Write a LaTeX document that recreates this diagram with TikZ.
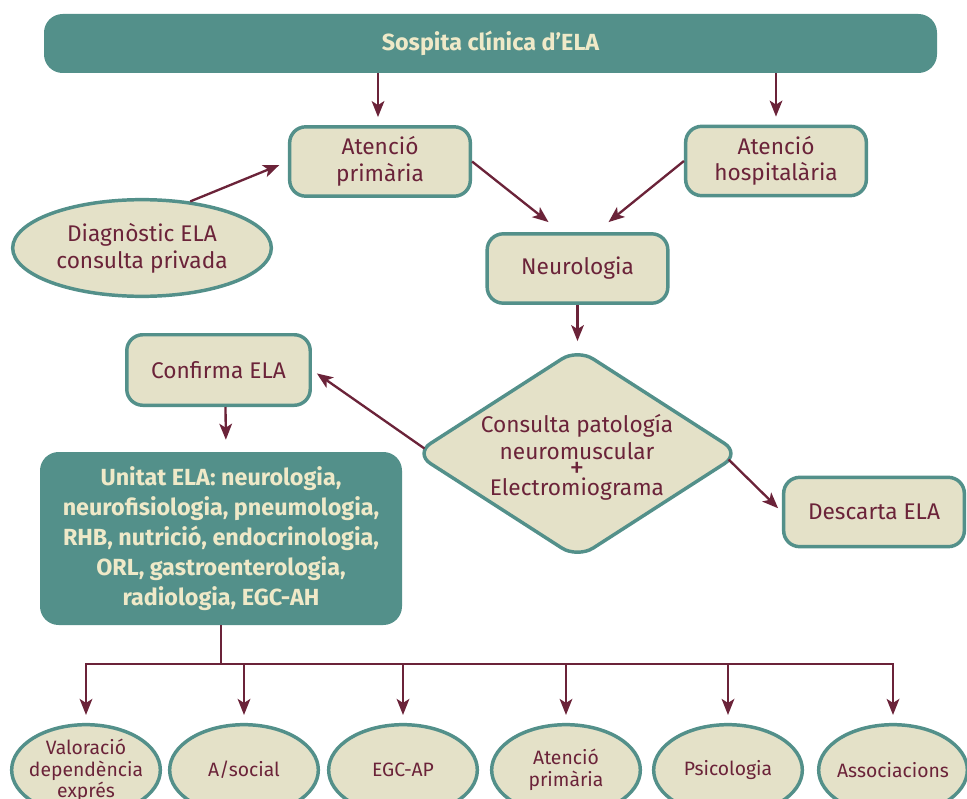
\documentclass[tikz,border=0pt]{standalone}
\usepackage{fontspec}
\setmainfont{Fira Sans}
\usetikzlibrary{arrows.meta,shapes.geometric,calc}
\definecolor{teal1}{HTML}{53908A}
\definecolor{beige}{HTML}{E4E1C8}
\definecolor{maroon}{HTML}{6B2339}
\definecolor{cream}{HTML}{EFE9C8}
\begin{document}
\begin{tikzpicture}[x=0.75pt,y=-0.75pt,
 box/.style={draw=teal1, fill=beige, line width=2.6pt, rounded corners=12pt, text=maroon,
   font=\fontsize{17}{20}\selectfont, align=center, inner sep=0pt,
   minimum width=135.5pt, minimum height=52pt},
 tealbox/.style={fill=teal1, rounded corners=14pt, text=cream,
   font=\bfseries\fontsize{17.5}{22.5}\selectfont, align=center, inner sep=0pt},
 oval/.style={ellipse, draw=teal1, fill=beige, line width=2.6pt, text=maroon, align=center, inner sep=0pt},
 smalloval/.style={oval, inner sep=-5pt, minimum width=111.5pt, minimum height=68pt, font=\fontsize{14.5}{16.5}\selectfont},
 conn/.style={draw=maroon, line width=1.75pt},
 arr/.style={conn, -{Stealth[length=12pt,width=9.5pt,inset=3pt]}, shorten >=5pt},
]
\useasboundingbox (0,0) rectangle (967,799);
\clip (0,0) rectangle (967,799);

% top banner
\node[tealbox, minimum width=669.75pt, minimum height=44.25pt] (ban) at (490.5,43.5) {Sospita clínica d'ELA};

% boxes
\node[box] (ap) at (380,161.5) {Atenció\\primària};
\node[box] (ah) at (776,161) {Atenció\\hospitalària};
\node[oval, minimum width=194pt, minimum height=72.5pt, font=\fontsize{17}{20}\selectfont] (diag) at (142,248) {Diagnòstic ELA\\consulta privada};
\node[box] (neu) at (577.5,268.5) {Neurologia};
\node[box, minimum width=137.6pt, minimum height=52.9pt] (conf) at (218.5,370) {Confirma ELA};
\node[diamond, draw=teal1, fill=beige, line width=2.6pt, rounded corners=14pt, inner sep=0pt,
      minimum width=245pt, minimum height=158pt] (d) at (577.5,453.5) {};
\node[text=maroon, align=center, font=\fontsize{17}{20}\selectfont] (dtext) at (577,457)
  {Consulta patología\\neuromuscular\\[-6pt]{\fontsize{22}{20}\selectfont +}\\[-7pt]Electromiograma};
\node[box] (desc) at (874,512) {Descarta ELA};
\node[tealbox, minimum width=271.5pt, minimum height=129.75pt] (uni) at (221,538.5)
  {Unitat ELA: neurologia,\\neurofisiologia, pneumologia,\\RHB, nutrició, endocrinologia,\\ORL, gastroenterologia,\\radiologia, EGC-AH};

% bottom ellipses
\node[smalloval] (b1) at (86,770) {Valoració\\dependència\\[-1pt]exprés};
\node[smalloval] (b2) at (244,770) {A/social};
\node[smalloval] (b3) at (403,770) {EGC-AP};
\node[smalloval] (b4) at (566,770) {Atenció\\primària};
\node[smalloval] (b5) at (728,770) {Psicologia};
\node[smalloval] (b6) at (893,770) {Associacions};

% connectors
\draw[arr, shorten >=6pt] ($(ap.north |- ban.south)+(-2,0)$) -- ($(ap.north)+(-2,0)$);
\draw[arr, shorten >=6pt] (ah.north |- ban.south) -- (ah.north);
\draw[arr, shorten >=7pt] (diag.44) -- (ap.west);
\draw[arr, shorten >=0pt] (ap.east) -- ($(neu.north)+(-29,-10)$);
\draw[arr, shorten >=0pt] (ah.west) -- ($(neu.north)+(31,-10)$);
\draw[arr, shorten >=4pt] (neu.south) -- (d.north);
\draw[arr, shorten >=4.5pt] ($(d.west)+(12,-5)$) -- (conf.east);
\draw[arr, shorten >=4pt] ($(d.east)+(-14,6)$) -- (desc.west);
\draw[arr, shorten >=9pt] ($(conf.south)+(7,0)$) -- ($(uni.north)+(5,0)$);

\coordinate (busL) at (86,664);
\coordinate (busR) at (893,664);
\draw[conn] (uni.south) -- (uni.south |- busL);
\draw[conn, line cap=rect] (busL) -- (busR);
\foreach \i in {1,...,6}{
  \draw[arr, shorten >=6pt] (b\i.north |- busL) -- (b\i.north);
}
\end{tikzpicture}
\end{document}
